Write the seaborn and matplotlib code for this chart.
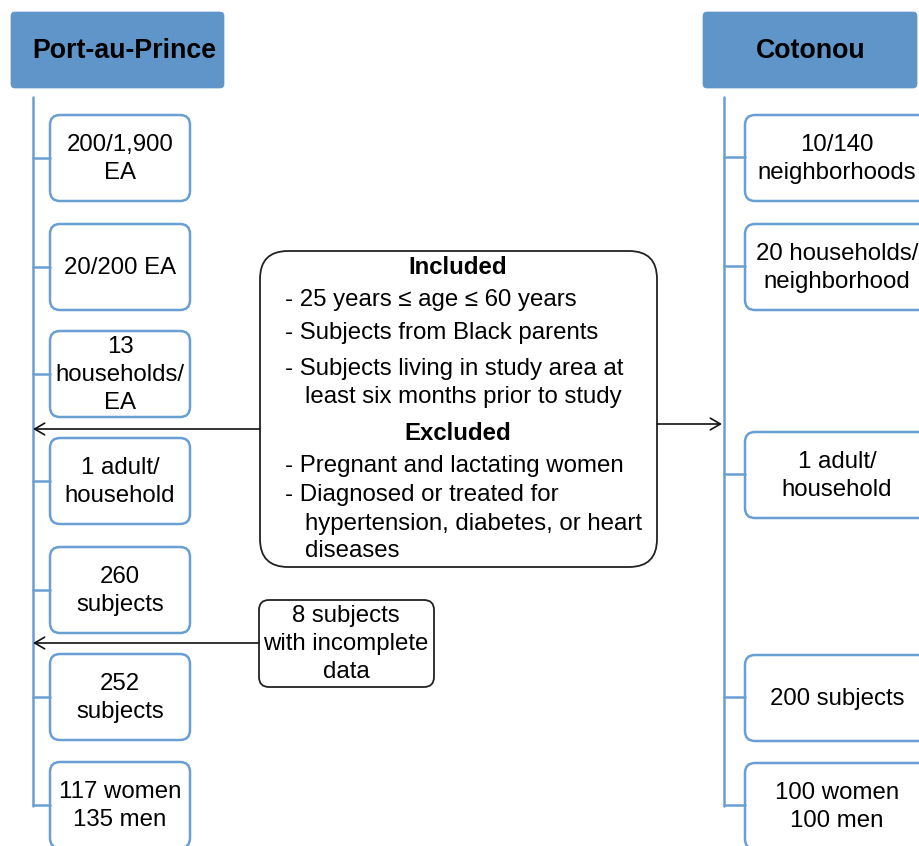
import numpy as np
import pandas as pd
import matplotlib.pyplot as plt
import seaborn as sns
from matplotlib.patches import FancyBboxPatch

# Data
cities = ["Port-au-Prince", "Cotonou"]
left_steps = ["200/1,900\nEA", "20/200 EA", "13\nhouseholds/\nEA", "1 adult/\nhousehold",
              "260\nsubjects", "252\nsubjects", "117 women\n135 men"]
right_steps = ["10/140\nneighborhoods", "20 households/\nneighborhood", "1 adult/\nhousehold",
               "200 subjects", "100 women\n100 men"]
included = ["- 25 years \u2264 age \u2264 60 years",
            "- Subjects from Black parents",
            "- Subjects living in study area at",
            "  least six months prior to study"]
excluded = ["- Pregnant and lactating women",
            "- Diagnosed or treated for",
            "  hypertension, diabetes, or heart",
            "  diseases"]
dropped = "8 subjects\nwith incomplete\ndata"

# layout (pixel units)
left_top = [115, 224, 331, 438, 547, 654, 762]
right_top = [115, 224, 432, 655, 763]
box_h = 86
blue = "#6a9fd3"
head_blue = "#5f95c8"
fs = 17.3
ls = 1.36

sns.set_theme(style="white")
plt.rcParams["font.family"] = ["Liberation Sans", "DejaVu Sans"]
plt.rcParams["text.color"] = "black"

fig = plt.figure(figsize=(9.2, 8.46), dpi=100)
ax = fig.add_axes([0, 0, 1, 1])
ax.set_xlim(0, 920)
ax.set_ylim(846, 0)
ax.axis("off")


def rbox(x0, y0, w, h, ec, fc="white", r=10, lw=1.8):
    ax.add_patch(FancyBboxPatch((x0, y0), w, h, boxstyle=f"round,pad=0,rounding_size={r}",
                                ec=ec, fc=fc, lw=lw, clip_on=False))


# headers
for x0, w, cx, name in [(11, 213, 124, cities[0]), (703, 214, 811, cities[1])]:
    rbox(x0, 12, w, 76, ec=head_blue, fc=head_blue, r=4, lw=0.5)
    ax.text(cx, 51, name, ha="center", va="center", fontsize=19.3, fontweight="bold")

# left column
lx = 33
ax.plot([lx, lx], [97, left_top[-1] + 44], color=blue, lw=1.8)
for top, lab in zip(left_top, left_steps):
    cy = top + box_h / 2
    ax.plot([lx, 50], [cy, cy], color=blue, lw=1.8)
    rbox(50, top, 140, box_h, ec=blue, r=10)
    ax.text(120, cy + 1, lab, ha="center", va="center", fontsize=fs, linespacing=ls)

# right column
rx = 724
ax.plot([rx, rx], [97, right_top[-1] + 43], color=blue, lw=1.8)
for top, lab in zip(right_top, right_steps):
    cy = top + box_h / 2 - 1
    ax.plot([rx, 745], [cy, cy], color=blue, lw=1.8)
    rbox(745, top, 185, box_h, ec=blue, r=10)
    ax.text(837, cy + 2, lab, ha="center", va="center", fontsize=fs, linespacing=ls)

# criteria box
rbox(260, 251, 397, 316, ec="#222222", r=28, lw=1.3)


def crit_line(y, line):
    x = 305 if line.startswith(" ") else 285
    ax.text(x, y, line.strip(), ha="left", va="center", fontsize=fs)


ax.text(458, 267, "Included", ha="center", va="center", fontsize=fs, fontweight="bold")
for y, line in zip([300, 333, 369, 397], included):
    crit_line(y, line)
ax.text(458, 433, "Excluded", ha="center", va="center", fontsize=fs, fontweight="bold")
for y, line in zip([466, 495, 524, 551], excluded):
    crit_line(y, line)

arrow = dict(arrowstyle="->,head_length=0.6,head_width=0.35", color="#111111", lw=1.2,
             shrinkA=0, shrinkB=0)
ax.annotate("", xy=(lx, 429), xytext=(260, 429), arrowprops=arrow)
ax.annotate("", xy=(722, 424), xytext=(657, 424), arrowprops=arrow)

# dropped subjects box
rbox(259, 600, 175, 87, ec="#222222", r=10, lw=1.3)
ax.text(346, 644, dropped, ha="center", va="center", fontsize=fs, linespacing=ls)
ax.annotate("", xy=(lx, 643), xytext=(259, 643), arrowprops=arrow)

fig.savefig("out.png", dpi=100)
